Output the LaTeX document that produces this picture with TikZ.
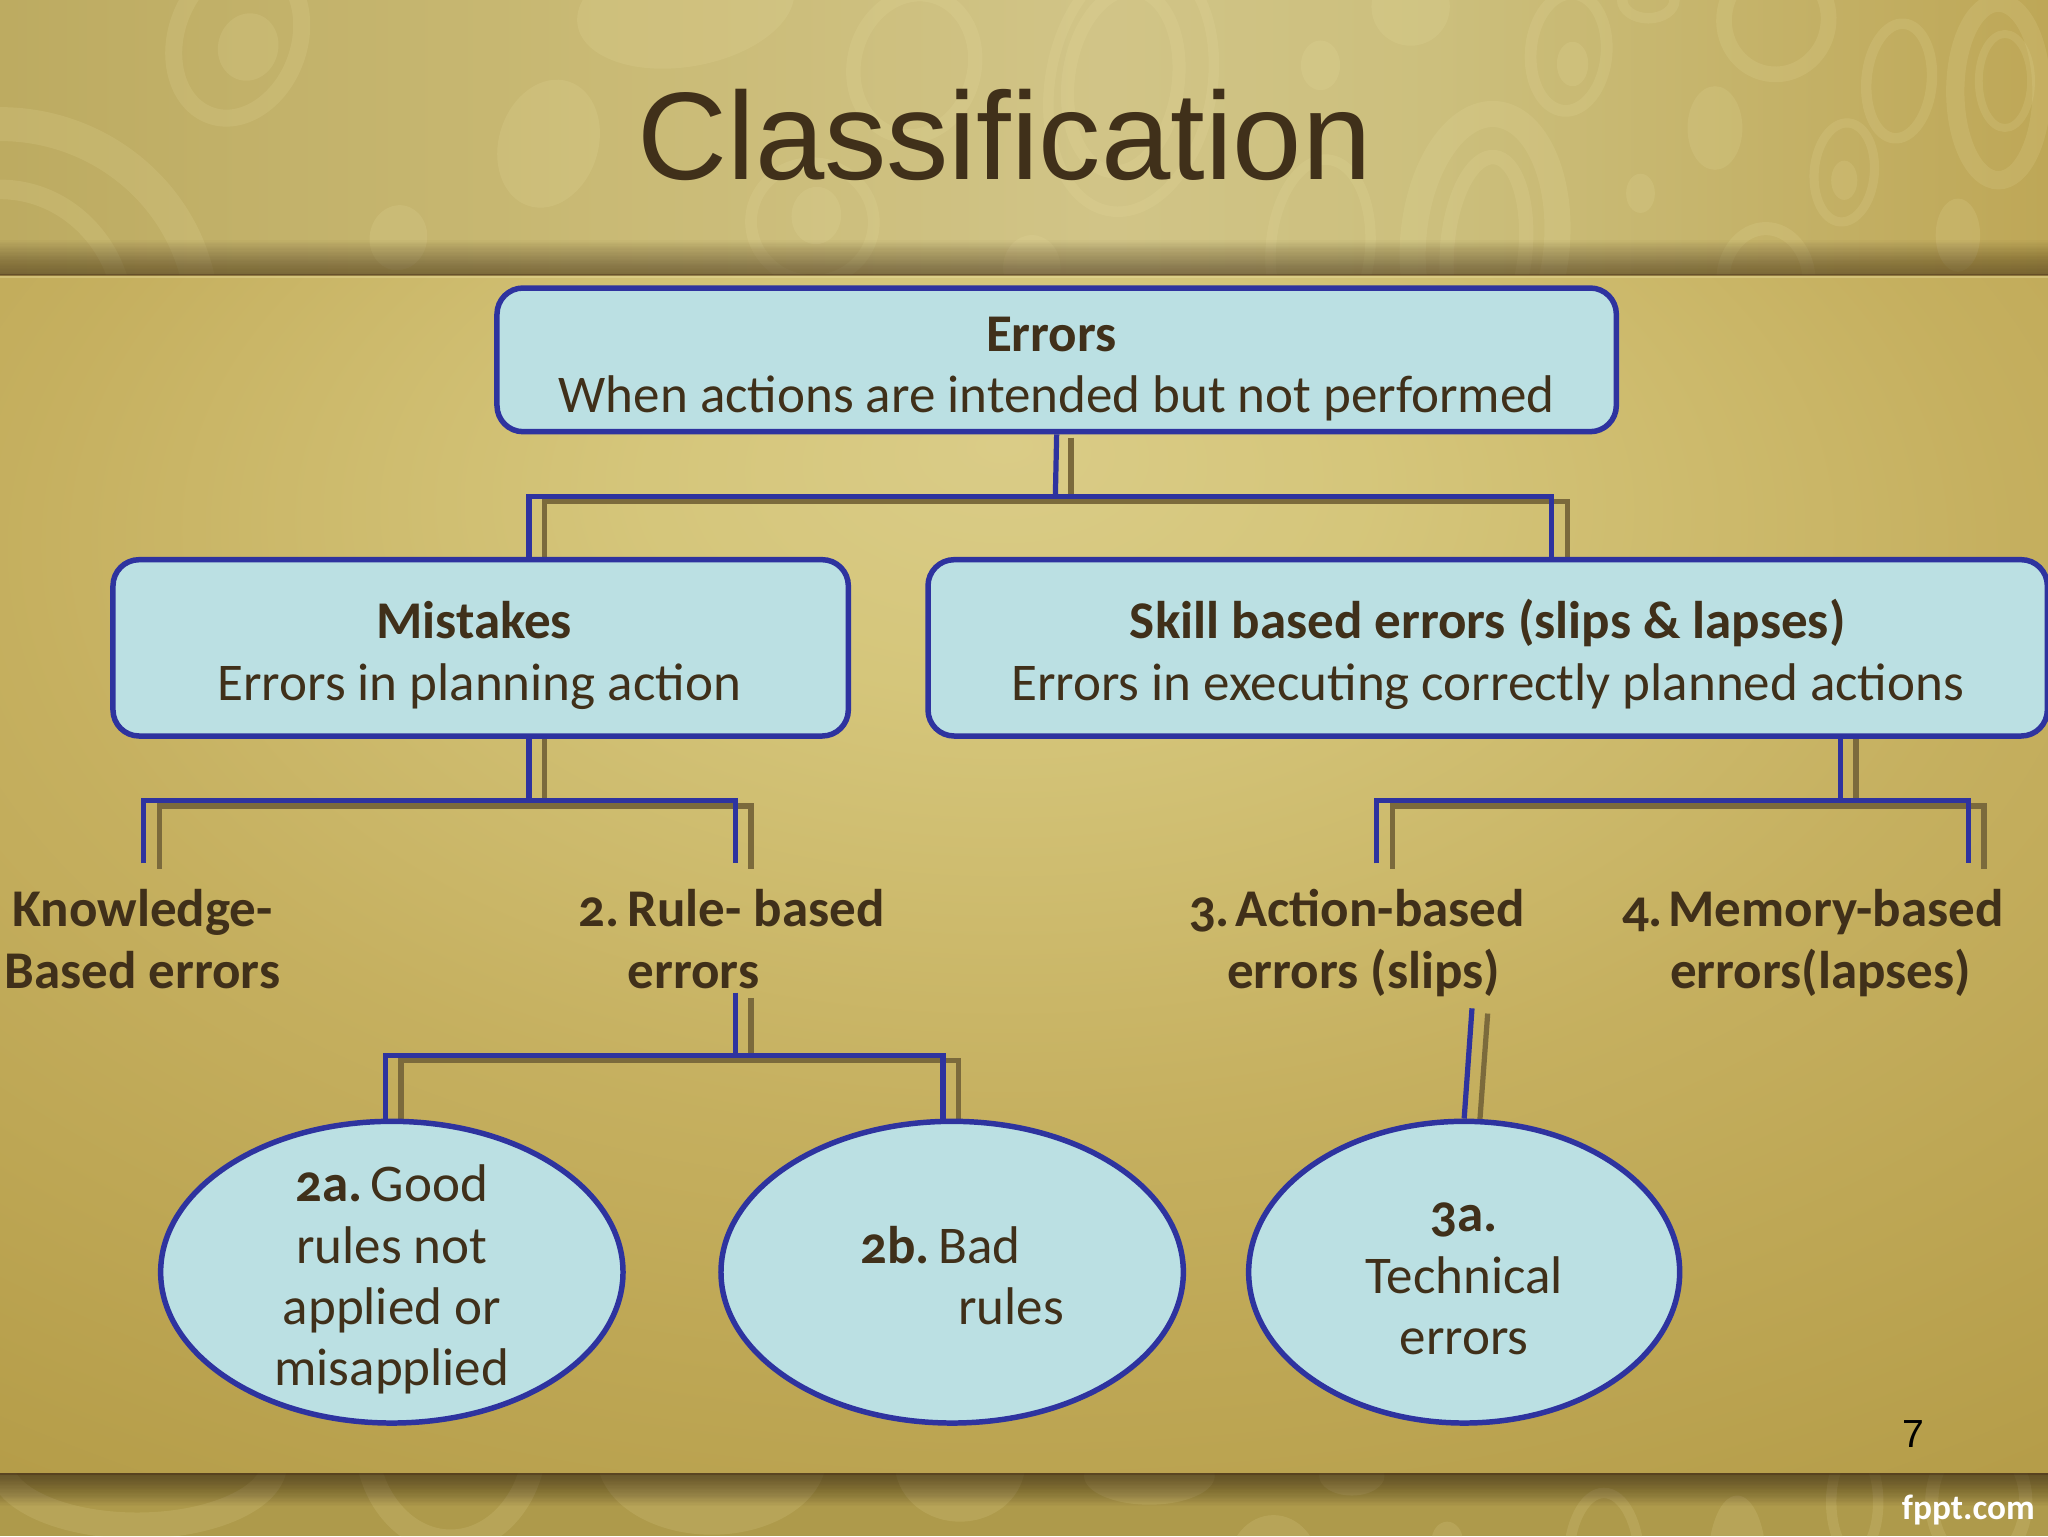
\documentclass[tikz,border=0pt]{standalone}
\usepackage{fontspec}
\setmainfont[Numbers=OldStyle]{Carlito}
\newfontfamily\arialfont{Liberation Sans}
\usetikzlibrary{shapes.geometric}
\definecolor{linkblue}{HTML}{2E339F}
\definecolor{boxfill}{HTML}{BBE0E3}
\definecolor{inktext}{HTML}{40301A}
\definecolor{shadowline}{HTML}{7B6A3C}
\definecolor{decor}{HTML}{EDE3A6}
\definecolor{bottombase}{HTML}{AE9A4B}
\pgfdeclareradialshading{bodybg}{\pgfpoint{-0.5bp}{18bp}}{
 rgb(0bp)=(.855,.80,.53);
 rgb(9bp)=(.835,.775,.48);
 rgb(24bp)=(.775,.69,.375);
 rgb(43bp)=(.71,.615,.285);
 rgb(100bp)=(.70,.60,.27)}
\pgfdeclarehorizontalshading{topbg}{100bp}{
 rgb(0bp)=(.74,.67,.38);
 rgb(25bp)=(.74,.67,.38);
 rgb(40bp)=(.79,.73,.46);
 rgb(52bp)=(.82,.77,.53);
 rgb(60bp)=(.80,.75,.49);
 rgb(75bp)=(.745,.655,.34);
 rgb(100bp)=(.745,.655,.34)}
\newcommand{\linesat}[2]{\makebox[0pt]{\raisebox{#1}[0pt][0pt]{\parbox[t]{860pt}{\centering #2}}}}
\tikzset{
 x=1pt,y=-1pt,
 flatbox/.style={draw=linkblue,fill=boxfill,line width=4.2pt,rounded corners=20pt,text=inktext,font=\fontsize{40.6}{47}\selectfont,inner sep=0pt},
 roundbox/.style={ellipse,draw=linkblue,fill=boxfill,line width=4.2pt,text=inktext,font=\fontsize{40.6}{47}\selectfont,inner sep=0pt},
 plainlabel/.style={text=inktext,font=\fontsize{40.6}{47}\selectfont\bfseries,inner sep=0pt},
 linkline/.style={draw=linkblue,line width=4pt,line cap=butt,line join=miter},
 shadowlink/.style={draw=shadowline,line width=4pt,line cap=butt,line join=miter},
 decorring/.style={draw=decor,opacity=.15},
 decorblob/.style={fill=decor,opacity=.15}
}
\newcommand{\ringmark}[6]{\draw[decorring,line width=#6pt,rotate around={#5:(#1,#2)}] (#1,#2) ellipse [x radius=#3,y radius=#4];}
\newcommand{\blobmark}[5]{\fill[decorblob,rotate around={#5:(#1,#2)}] (#1,#2) ellipse [x radius=#3,y radius=#4];}
\begin{document}
\begin{tikzpicture}
\useasboundingbox (0,0) rectangle (1568,1176);
% top band
\shade[shading=topbg] (0,0) rectangle (1568,211);
\begin{scope}
\clip (0,0) rectangle (1568,211);
\ringmark{182}{30}{47}{62}{-20}{13}
\blobmark{190}{36}{23}{26}{-15}
\blobmark{420}{110}{38}{50}{-18}
\blobmark{525}{5}{84}{46}{10}
\ringmark{700}{50}{46}{55}{-15}{11}
\ringmark{0}{245}{155}{150}{0}{26}
\ringmark{0}{245}{95}{100}{0}{15}
\blobmark{305}{182}{22}{25}{-10}
\ringmark{622}{170}{47}{45}{-5}{9}
\blobmark{625}{165}{19}{22}{-5}
\ringmark{866}{65}{62}{98}{-10}{8}
\ringmark{860}{62}{42}{70}{-8}{10}
\blobmark{1080}{5}{30}{30}{0}
\blobmark{1011}{50}{15}{19}{0}
\ringmark{1201}{40}{29}{45}{-5}{9}
\blobmark{1204}{49}{12}{17}{0}
\ringmark{1262}{0}{20}{14}{0}{8}
\ringmark{1360}{15}{40}{42}{-10}{12}
\ringmark{1454}{62}{25}{44}{-5}{8}
\ringmark{1530}{70}{33}{68}{0}{14}
\ringmark{1535}{62}{20}{36}{0}{6}
\blobmark{1313}{98}{21}{32}{0}
\ringmark{1412}{132}{23}{38}{-5}{7}
\blobmark{1412}{138}{10}{15}{0}
\blobmark{1256}{148}{11}{15}{0}
\blobmark{1499}{180}{17}{28}{0}
\ringmark{1352}{215}{33}{40}{0}{10}
\ringmark{1137}{185}{55}{98}{-5}{20}
\ringmark{1138}{190}{30}{70}{-5}{11}
\ringmark{1011}{190}{38}{68}{-5}{8}
\blobmark{790}{205}{22}{25}{0}
\end{scope}
% darkening toward the edge of the top band
\foreach \ystep in {184,185,...,209}{
  \fill[black!70!brown,opacity=.024] (0,\ystep) rectangle (1568,211);
}
% body
\shade[shading=bodybg] (0,211) rectangle (1568,1128);
\fill[decor,opacity=.35] (0,211) rectangle (1568,213);
% bottom band
\fill[bottombase] (0,1128) rectangle (1568,1176);
\begin{scope}
\clip (0,1128) rectangle (1568,1176);
\ringmark{105}{1120}{105}{48}{0}{20}
\ringmark{345}{1100}{65}{80}{0}{18}
\blobmark{545}{1115}{88}{60}{0}
\blobmark{735}{1120}{50}{45}{0}
\blobmark{880}{1130}{50}{22}{0}
\blobmark{1035}{1130}{25}{15}{0}
\blobmark{975}{1200}{35}{40}{0}
\ringmark{1228}{1195}{27}{52}{0}{8}
\blobmark{1330}{1195}{22}{50}{0}
\blobmark{1108}{1180}{12}{15}{0}
\ringmark{1420}{1150}{18}{40}{0}{8}
\ringmark{1515}{1150}{36}{48}{0}{10}
\end{scope}
\foreach \ystep in {1130,1131,...,1153}{
  \fill[black!80!brown,opacity=.026] (0,1128) rectangle (1568,\ystep);
}
\fill[black!60!brown,opacity=.45] (0,209.5) rectangle (1568,211.5);
\fill[black!60!brown,opacity=.5] (0,1127.5) rectangle (1568,1129.5);
% title and page texts
\node[name=titletext,inner sep=0pt,text=inktext,font=\fontsize{95.4}{100}\arialfont] at (769,103) {Classification};
\node[name=pagenum,inner sep=0pt,text=black,font=\fontsize{30}{32}\arialfont] at (1465,1098) {7};
\node[name=brandtext,inner sep=0pt,anchor=east,text=white,font=\fontsize{27}{30}\selectfont\bfseries] at (1558,1156) {fppt.com};
% junction coordinates
\coordinate (e0) at (808,331); \coordinate (e1) at (808,380); \coordinate (e2) at (405,380); \coordinate (e3) at (1188,380);
\coordinate (e4) at (405,424); \coordinate (e5) at (1188,424);
\coordinate (m0) at (405,560); \coordinate (m1) at (405,613); \coordinate (m2) at (110,613); \coordinate (m3) at (563,613);
\coordinate (m4) at (110,661); \coordinate (m5) at (563,661);
\coordinate (s0) at (1409,560); \coordinate (s1) at (1409,613); \coordinate (s2) at (1054,613); \coordinate (s3) at (1507,613);
\coordinate (s4) at (1054,661); \coordinate (s5) at (1507,661);
\coordinate (r0) at (563,760); \coordinate (r1) at (563,808); \coordinate (r2) at (295,808); \coordinate (r3) at (722,808);
\coordinate (r4) at (295,854); \coordinate (r5) at (722,854);
\coordinate (t0) at (1127,772); \coordinate (t1) at (1121,854);
% connector shadows
\begin{scope}[transform canvas={xshift=12pt,yshift=-4pt}]
\draw[shadowlink] (e0) -- (e1);
\draw[shadowlink] (e4) -- (e2) -- (e3) -- (e5);
\draw[shadowlink] (m0) -- (m1);
\draw[shadowlink] (m4) -- (m2) -- (m3) -- (m5);
\draw[shadowlink] (s0) -- (s1);
\draw[shadowlink] (s4) -- (s2) -- (s3) -- (s5);
\draw[shadowlink] (r0) -- (r1);
\draw[shadowlink] (r4) -- (r2) -- (r3) -- (r5);
\draw[shadowlink] (t0) -- (t1);
\end{scope}
% boxes
\node[flatbox,name=errors,minimum width=857,minimum height=110] at (809,275.5) {\linesat{6.5pt}{\textbf{Errors}\hspace*{8pt}\mbox{}\\When actions are intended but not performed}};
\node[flatbox,name=mistakes,minimum width=563,minimum height=135] at (368,496) {\linesat{7pt}{\textbf{Mistakes}\hspace*{10pt}\mbox{}\\Errors in planning action\hspace*{2pt}}};
\node[flatbox,name=skill,minimum width=857,minimum height=135] at (1139,496) {\linesat{7pt}{\textbf{Skill based errors (slips \& lapses)}\\Errors in executing correctly planned actions}};
\node[roundbox,name=goodrules,minimum width=354,minimum height=231] at (300,974) {\linesat{54pt}{\textbf{2a.}\hspace{-6pt} Good\\rules not\\applied or\\misapplied}};
\node[roundbox,name=badrules,minimum width=354,minimum height=231] at (729,974) {\linesat{7pt}{\textbf{2b.}\hspace{-6pt} Bad\hspace*{18pt}\mbox{}\\\hspace*{90pt}rules}};
\node[roundbox,name=technical,minimum width=330,minimum height=231] at (1121,974) {\linesat{31pt}{\textbf{3a.}\\Technical\\errors}};
% labels
\node[plainlabel,name=knowledge] at (109,720) {\linesat{10.5pt}{Knowledge-\\Based errors}};
\node[plainlabel,name=rulebased] at (560,720) {\linesat{10.5pt}{2.\hspace{-6pt} Rule- based\\errors\hspace*{58pt}}};
\node[plainlabel,name=actionbased] at (1039,720) {\linesat{10.5pt}{3.\hspace{-8pt} Action-based\\\hspace*{10pt}errors (slips)}};
\node[plainlabel,name=memorybased] at (1388,720) {\linesat{10.5pt}{4.\hspace{-8pt} Memory-based\\\hspace*{12pt}errors(lapses)}};
% connectors
\draw[linkline] (errors.south) -- (e1);
\draw[linkline] (mistakes.north -| e2) -- (e2) -- (e3) -- (skill.north -| e3);
\draw[linkline] (mistakes.south -| m1) -- (m1);
\draw[linkline] (m4) -- (m2) -- (m3) -- (m5);
\draw[linkline] (skill.south -| s1) -- (s1);
\draw[linkline] (s4) -- (s2) -- (s3) -- (s5);
\draw[linkline] (r0) -- (r1);
\draw[linkline] (goodrules.north -| r2) -- (r2) -- (r3) -- (badrules.north -| r3);
\draw[linkline] (t0) -- (technical.north);
\end{tikzpicture}
\end{document}
